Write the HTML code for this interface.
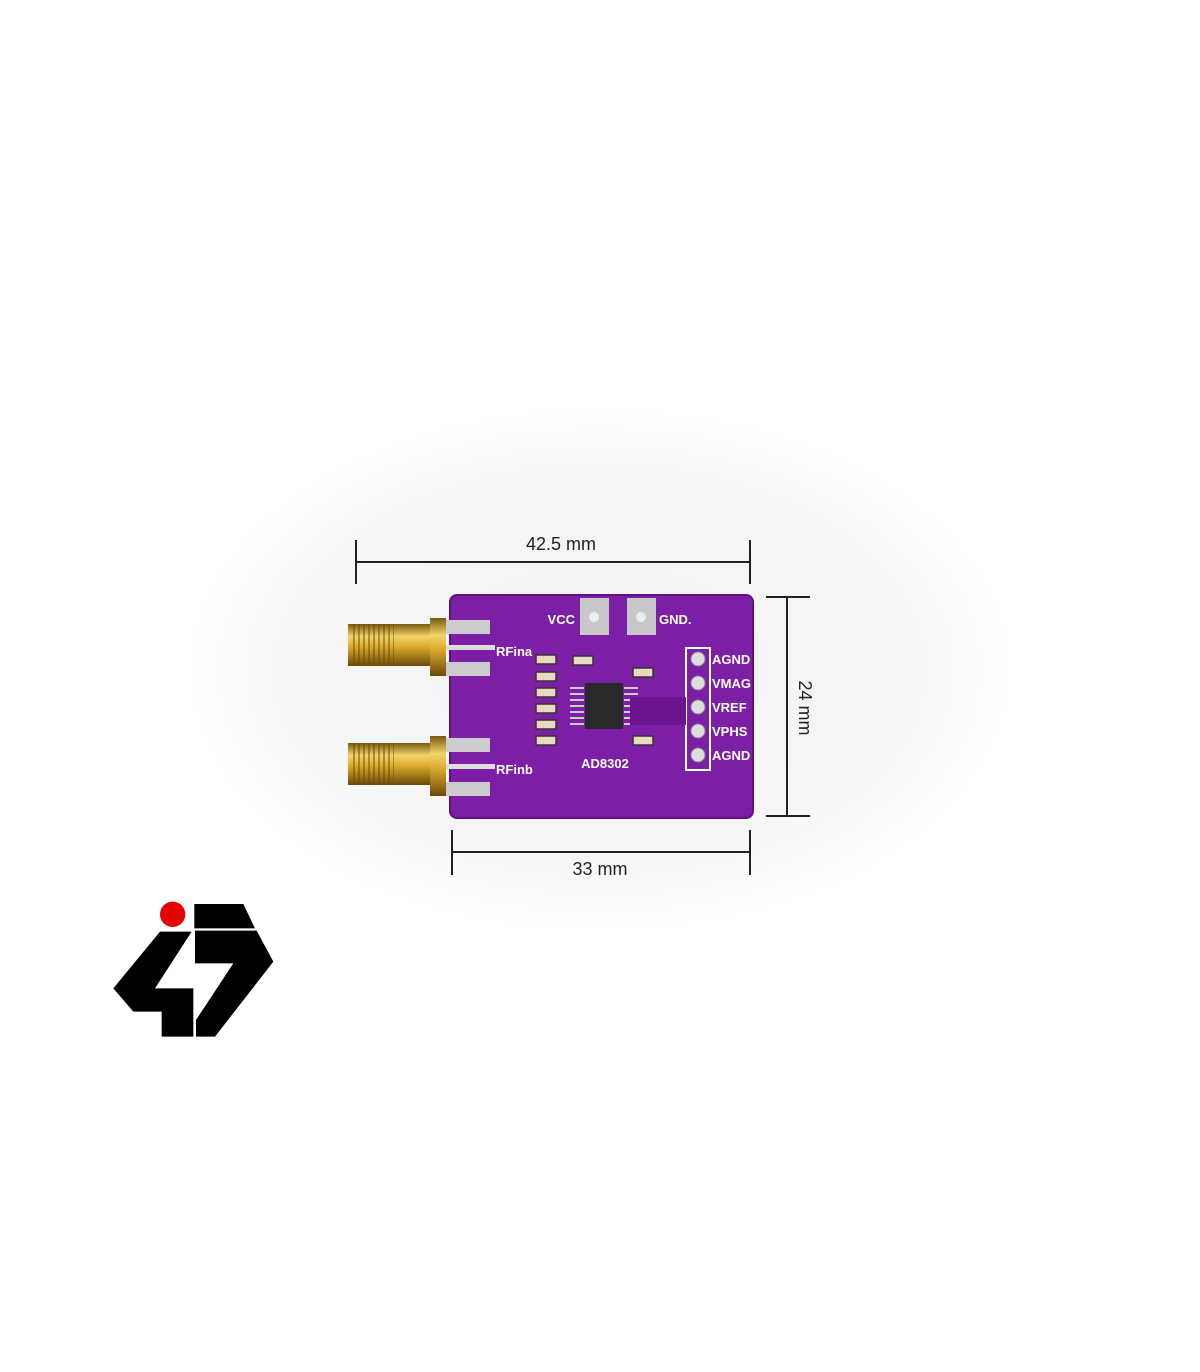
<!DOCTYPE html>
<html><head><meta charset="utf-8"><style>
html,body{margin:0;padding:0;background:#fff;}
svg{display:block;}
text{font-family:"Liberation Sans",sans-serif;}
</style></head><body>
<svg width="1200" height="1372" viewBox="0 0 1200 1372" xmlns="http://www.w3.org/2000/svg">
<defs>
<radialGradient id="bg" cx="0.5" cy="0.5" r="0.5">
<stop offset="0" stop-color="#f3f3f3"/><stop offset="0.7" stop-color="#f6f6f6"/><stop offset="1" stop-color="#fff"/>
</radialGradient>
<linearGradient id="gold" x1="0" y1="0" x2="0" y2="1">
<stop offset="0" stop-color="#7a5a10"/><stop offset="0.3" stop-color="#f3d46a"/><stop offset="0.55" stop-color="#d9a92c"/><stop offset="1" stop-color="#6b4a08"/>
</linearGradient>
<pattern id="thr" width="5" height="10" patternUnits="userSpaceOnUse"><rect width="5" height="10" fill="none"/><rect x="3" width="2" height="10" fill="#6b4a08" opacity="0.5"/></pattern>
</defs>
<rect width="1200" height="1372" fill="#fff"/>
<ellipse cx="600" cy="670" rx="410" ry="260" fill="url(#bg)"/>
<g stroke="#222" stroke-width="2" fill="none">
<line x1="356" y1="562" x2="750" y2="562"/><line x1="356" y1="540" x2="356" y2="584"/><line x1="750" y1="540" x2="750" y2="584"/>
<line x1="787" y1="597" x2="787" y2="816"/><line x1="766" y1="597" x2="810" y2="597"/><line x1="766" y1="816" x2="810" y2="816"/>
<line x1="452" y1="852" x2="750" y2="852"/><line x1="452" y1="830" x2="452" y2="875"/><line x1="750" y1="830" x2="750" y2="875"/>
</g>
<text x="561" y="550" font-size="18" text-anchor="middle" fill="#222">42.5 mm</text>
<text x="600" y="875" font-size="18" text-anchor="middle" fill="#222">33 mm</text>
<text x="0" y="0" font-size="18" text-anchor="middle" fill="#222" transform="translate(799,708) rotate(90)">24 mm</text>
<rect x="450" y="595" width="303" height="223" rx="7" fill="#7d1fa6"/>
<rect x="450" y="595" width="303" height="223" rx="7" fill="none" stroke="#5e1180" stroke-width="2"/>
<rect x="580" y="598" width="29" height="37" fill="#c8c8c8"/><circle cx="594" cy="617" r="5" fill="#eee"/>
<rect x="627" y="598" width="29" height="37" fill="#c8c8c8"/><circle cx="641" cy="617" r="5" fill="#eee"/>
<text x="575" y="624" font-size="13" font-weight="bold" fill="#fff" text-anchor="end">VCC</text>
<text x="659" y="624" font-size="13" font-weight="bold" fill="#fff">GND.</text>
<rect x="686" y="648" width="24" height="122" fill="none" stroke="#fff" stroke-width="2"/>
<g fill="#ddd" stroke="#888"><circle cx="698" cy="659" r="7"/><circle cx="698" cy="683" r="7"/><circle cx="698" cy="707" r="7"/><circle cx="698" cy="731" r="7"/><circle cx="698" cy="755" r="7"/></g>
<g font-size="13" font-weight="bold" fill="#fff"><text x="712" y="664">AGND</text><text x="712" y="688">VMAG</text><text x="712" y="712">VREF</text><text x="712" y="736">VPHS</text><text x="712" y="760">AGND</text></g>
<rect x="585" y="683" width="38" height="46" fill="#2a2a2a"/>
<g fill="#ccc"><rect x="570" y="687" width="14" height="2"/><rect x="570" y="693" width="14" height="2"/><rect x="570" y="699" width="14" height="2"/><rect x="570" y="705" width="14" height="2"/><rect x="570" y="711" width="14" height="2"/><rect x="570" y="717" width="14" height="2"/><rect x="570" y="723" width="14" height="2"/>
<rect x="624" y="687" width="14" height="2"/><rect x="624" y="693" width="14" height="2"/><rect x="624" y="699" width="14" height="2"/><rect x="624" y="705" width="14" height="2"/><rect x="624" y="711" width="14" height="2"/><rect x="624" y="717" width="14" height="2"/><rect x="624" y="723" width="14" height="2"/></g>
<rect x="630" y="697" width="56" height="28" fill="#6a148e"/>
<text x="605" y="768" font-size="13" font-weight="bold" fill="#fff" text-anchor="middle">AD8302</text>
<g fill="#e8d9c0" stroke="#333" stroke-width="1.5">
<rect x="536" y="655" width="20" height="9"/><rect x="536" y="672" width="20" height="9"/><rect x="536" y="688" width="20" height="9"/><rect x="536" y="704" width="20" height="9"/><rect x="536" y="720" width="20" height="9"/><rect x="536" y="736" width="20" height="9"/>
<rect x="573" y="656" width="20" height="9"/><rect x="633" y="668" width="20" height="9"/><rect x="633" y="736" width="20" height="9"/>
</g>
<g>
<rect x="430" y="620" width="60" height="14" fill="#ccc"/><rect x="430" y="662" width="60" height="14" fill="#ccc"/><rect x="440" y="645" width="55" height="5" fill="#ddd"/>
<rect x="348" y="624" width="85" height="42" fill="url(#gold)"/>
<rect x="350" y="624" width="44" height="42" fill="url(#thr)"/>
<rect x="430" y="618" width="16" height="58" fill="url(#gold)"/>
<rect x="430" y="738" width="60" height="14" fill="#ccc"/><rect x="430" y="782" width="60" height="14" fill="#ccc"/><rect x="440" y="764" width="55" height="5" fill="#ddd"/>
<rect x="348" y="743" width="85" height="42" fill="url(#gold)"/>
<rect x="350" y="743" width="44" height="42" fill="url(#thr)"/>
<rect x="430" y="736" width="16" height="60" fill="url(#gold)"/>
</g>
<g font-size="13" font-weight="bold" fill="#fff"><text x="496" y="656">RFina</text><text x="496" y="774">RFinb</text></g>
<g transform="translate(100,890) scale(0.3333)">
<circle cx="218" cy="73" r="38" fill="#e60000"/>
<polygon points="283,42 430,42 465,115 283,115" fill="#000"/>
<polygon points="180,125 275,125 165,295 280,295 280,440 185,440 185,365 100,365 40,295" fill="#000"/>
<polygon points="285,122 470,122 520,215 345,440 288,440 288,390 400,220 285,220" fill="#000"/>
</g>
</svg>
</body></html>
